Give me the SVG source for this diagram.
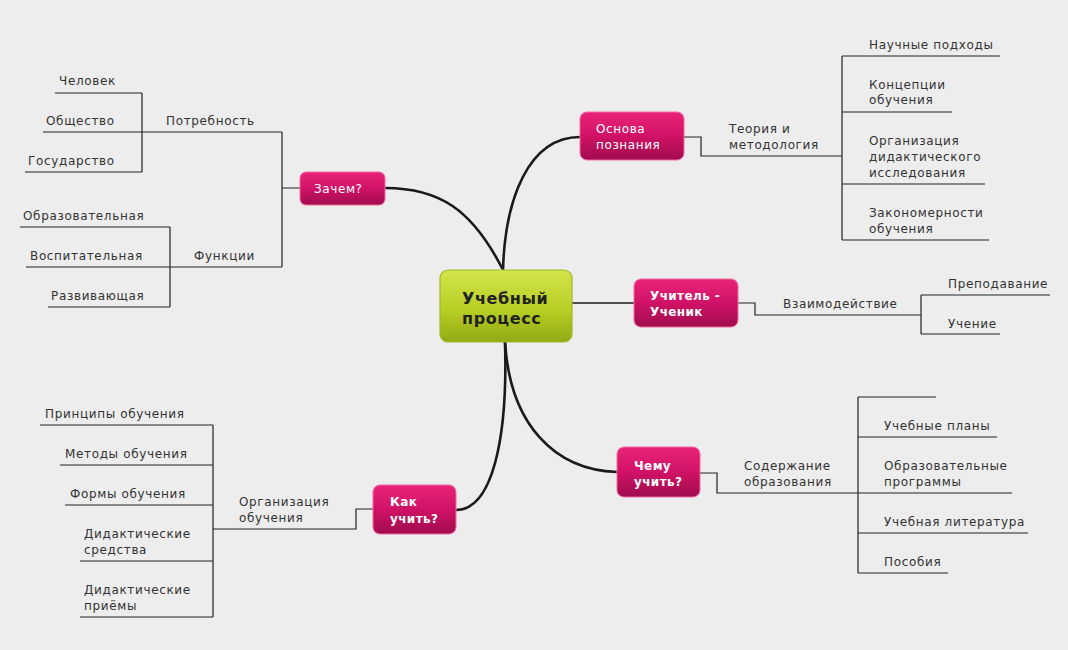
<svg xmlns="http://www.w3.org/2000/svg" width="1068" height="650" viewBox="0 0 1068 650">
<defs>
<linearGradient id="pink" x1="0" y1="0" x2="0" y2="1">
<stop offset="0" stop-color="#ea2478"/>
<stop offset="0.5" stop-color="#d01266"/>
<stop offset="1" stop-color="#a00c4c"/>
</linearGradient>
<linearGradient id="green" x1="0" y1="0" x2="0" y2="1">
<stop offset="0" stop-color="#d2e44c"/>
<stop offset="0.55" stop-color="#b8cf24"/>
<stop offset="1" stop-color="#92aa14"/>
</linearGradient>
<style>
.t{font-family:"DejaVu Sans",Verdana,sans-serif;font-size:12px;fill:#333;letter-spacing:0.65px}
.w{font-family:"DejaVu Sans",Verdana,sans-serif;font-size:12px;fill:#fff;letter-spacing:0.6px}
.wb{font-family:"DejaVu Sans",Verdana,sans-serif;font-size:12px;font-weight:bold;fill:#fff;letter-spacing:0.4px}
.c{font-family:"DejaVu Sans",Verdana,sans-serif;font-size:16px;font-weight:bold;fill:#222;letter-spacing:0.6px}
.ln{fill:none;stroke:#222;stroke-width:1.2}
.cv{fill:none;stroke:#1a1a1a;stroke-width:2.6;stroke-linecap:round}
.pk{fill:url(#pink);stroke:#f06aa0;stroke-width:1}
</style>
</defs>
<rect width="1068" height="650" fill="#ededed"/>
<g id="connectors">
<path class="cv" d="M385,188 C440,188 472,210 502,268"/>
<path class="cv" d="M503,270 C505,200 528,137 580,137"/>
<path class="cv" d="M572,303 L634,303" style="stroke-width:1.6"/>
<path class="cv" d="M505,342 C510,425 555,470 617,472"/>
<path class="cv" d="M505,342 C508,440 492,510 456,510"/>
<path class="ln" d="M300,188 H282 M282,132 V267 M43,132 H282 M142,93 V172 M55,93 H142 M25,172 H142 M26,267 H282 M170,227 V307 M20,227 H170 M48,307 H170"/>
<path class="ln" d="M684,137 H701 V156 H842 M842,56 V240 M842,56 H1000 M842,112 H952 M842,184 H985 M842,240 H989"/>
<path class="ln" d="M738,303 H755 V315 H921 M921,295 V334 M921,295 H1050 M921,334 H1000"/>
<path class="ln" d="M700,473 H717 V493 H858 M858,397 V573 M858,397 H936 M858,437 H997 M858,493 H1012 M858,533 H1028 M858,573 H948"/>
<path class="ln" d="M373,509 H356 V529 H213 M213,425 V617 M40,425 H213 M60,465 H213 M65,505 H213 M80,561 H213 M80,617 H213"/>
</g>
<g id="labels">
<text class="t" x="166" y="125">Потребность</text>
<text class="t" x="59" y="85">Человек</text>
<text class="t" x="46" y="125">Общество</text>
<text class="t" x="28" y="165">Государство</text>
<text class="t" x="194" y="260">Функции</text>
<text class="t" x="23" y="220">Образовательная</text>
<text class="t" x="30" y="260">Воспитательная</text>
<text class="t" x="51" y="300">Развивающая</text>
<text class="t" x="729" y="133">Теория и</text>
<text class="t" x="729" y="149">методология</text>
<text class="t" x="869" y="49">Научные подходы</text>
<text class="t" x="869" y="89">Концепции</text>
<text class="t" x="869" y="104">обучения</text>
<text class="t" x="869" y="145">Организация</text>
<text class="t" x="869" y="161">дидактического</text>
<text class="t" x="869" y="177">исследования</text>
<text class="t" x="869" y="217">Закономерности</text>
<text class="t" x="869" y="233">обучения</text>
<text class="t" x="783" y="308">Взаимодействие</text>
<text class="t" x="948" y="288">Преподавание</text>
<text class="t" x="948" y="328">Учение</text>
<text class="t" x="744" y="470">Содержание</text>
<text class="t" x="744" y="486">образования</text>
<text class="t" x="884" y="430">Учебные планы</text>
<text class="t" x="884" y="470">Образовательные</text>
<text class="t" x="884" y="486">программы</text>
<text class="t" x="884" y="526">Учебная литература</text>
<text class="t" x="884" y="566">Пособия</text>
<text class="t" x="239" y="506">Организация</text>
<text class="t" x="239" y="522">обучения</text>
<text class="t" x="45" y="418">Принципы обучения</text>
<text class="t" x="65" y="458">Методы обучения</text>
<text class="t" x="70" y="498">Формы обучения</text>
<text class="t" x="84" y="538">Дидактические</text>
<text class="t" x="84" y="554">средства</text>
<text class="t" x="84" y="594">Дидактические</text>
<text class="t" x="84" y="610">приёмы</text>
</g>
<g id="center">
<rect x="440" y="270" width="132" height="72" rx="8" fill="url(#green)" stroke="#a2b828" stroke-width="1.2"/>
<text class="c" x="462" y="304">Учебный</text>
<text class="c" x="462" y="324">процесс</text>
</g>
<g id="zachem">
<rect class="pk" x="300" y="172" width="85" height="33" rx="6"/>
<text class="w" x="314" y="193">Зачем?</text>
</g>
<g id="osnova">
<rect class="pk" x="580" y="112" width="104" height="48" rx="7"/>
<text class="w" x="596" y="133">Основа</text>
<text class="w" x="596" y="149">познания</text>
</g>
<g id="uchitel">
<rect class="pk" x="634" y="279" width="104" height="48" rx="7"/>
<text class="wb" x="650" y="300">Учитель -</text>
<text class="wb" x="650" y="316">Ученик</text>
</g>
<g id="chemu">
<rect class="pk" x="617" y="447" width="83" height="50" rx="7"/>
<text class="wb" x="634" y="470">Чему</text>
<text class="wb" x="634" y="486">учить?</text>
</g>
<g id="kak">
<rect class="pk" x="373" y="485" width="83" height="49" rx="7"/>
<text class="wb" x="390" y="506">Как</text>
<text class="wb" x="390" y="523">учить?</text>
</g>
</svg>
